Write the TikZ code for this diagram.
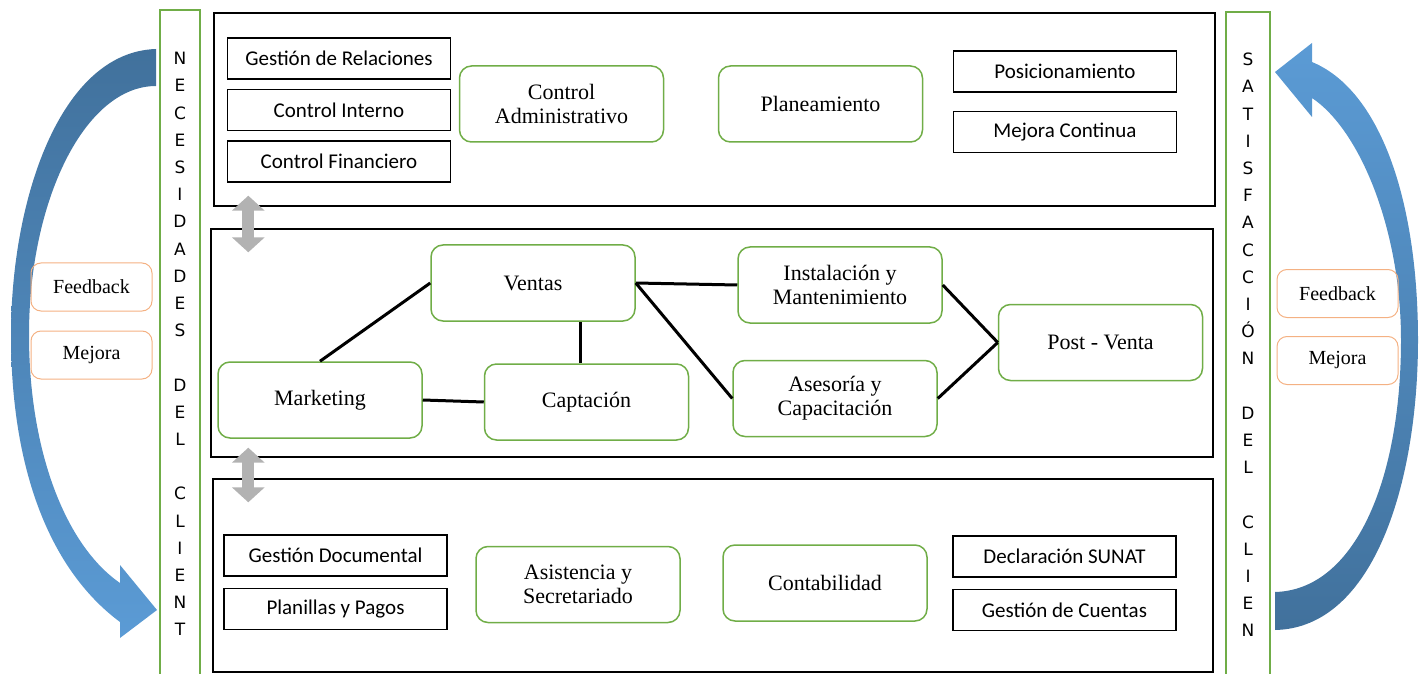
\documentclass[tikz,border=0pt]{standalone}
\usepackage{fontspec}
\setmainfont{Liberation Serif}
\newfontfamily\calibri{Carlito}
\newfontfamily\gotica{DejaVu Sans}
\usetikzlibrary{arrows.meta, positioning}
\definecolor{verde}{HTML}{70AD47}
\definecolor{naranja}{HTML}{F4B183}
\definecolor{azul}{HTML}{5B9BD5}
\definecolor{azuloscuro}{HTML}{41719C}
\tikzstyle{panel} = [rectangle, 
			draw, 
			line width = 0.7pt, 
			inner sep = 0pt]
\tikzstyle{tarea} = [rectangle, 
			draw, 
			line width = 0.75pt, 
			minimum width = 111.5pt, 
			minimum height = 20.5pt, 
			font = \calibri\fontsize{10.5}{12}\selectfont]
\tikzstyle{area} = [rectangle, 
			draw = verde, 
			rounded corners = 6pt, 
			line width = 0.75pt, 
			align = center, 
			minimum width = 102pt, 
			minimum height = 38pt, 
			font = \fontsize{11}{12}\selectfont]
\tikzstyle{nota} = [rectangle, 
			draw = naranja, 
			rounded corners = 5pt, 
			line width = 0.5pt, 
			minimum width = 60.5pt, 
			minimum height = 24pt, 
			font = \fontsize{10}{12}\selectfont]
\tikzstyle{franja} = [rectangle, 
			draw = verde, 
			line width = 0.6pt, 
			align = center, 
			minimum width = 20pt, 
			font = \gotica\fontsize{8.5}{13.6}\selectfont]
\tikzstyle{enlace} = [line width = 1.5pt]
\tikzstyle{dobleflecha} = [line width = 6pt, 
			gray!60, 
			{Triangle[width=16pt,length=7.5pt]}-{Triangle[width=16pt,length=7.5pt]}]

\begin{document}
\begin{tikzpicture}[x=0.5pt, y=-0.5pt, node distance = 4.5pt]
	\useasboundingbox (0,0) rectangle (1426,674);
	% flechas curvas
	\shade[top color=azuloscuro, bottom color=azul] (156,49) .. controls (60,52) and (11,200) .. (11,335) .. controls (11,470) and (50,570) .. (120,622) -- (120,638) -- (157,610) -- (120,565) -- (120,583) .. controls (65,545) and (29,450) .. (29,335) .. controls (29,200) and (85,86) .. (156,86) -- cycle;
	\shade[top color=azul, bottom color=azuloscuro] (1275,630) .. controls (1375,628) and (1418,480) .. (1418,340) .. controls (1418,200) and (1380,90) .. (1312,62) -- (1312,43) -- (1275,72) -- (1312,117) -- (1312,98) .. controls (1360,130) and (1401,230) .. (1401,340) .. controls (1401,480) and (1355,590) .. (1275,592) -- cycle;

	\node [franja, minimum height = 334pt] (necesidades) at (180,344) {N\\E\\C\\E\\S\\I\\D\\A\\D\\E\\S\\[13.6pt]D\\E\\L\\[13.6pt]C\\L\\I\\E\\N\\T};
	\node [franja, minimum width = 22pt, minimum height = 333pt] (satisfaccion) at (1248,345) {S\\A\\T\\I\\S\\F\\A\\C\\C\\I\\Ó\\N\\[13.6pt]D\\E\\L\\[13.6pt]C\\L\\I\\E\\N};

	\node [nota] (feedbackizq) at (91.5,287) {Feedback};
	\node [nota, below=9.5pt of feedbackizq] (mejoraizq) {Mejora};
	\node [nota] (feedbackder) at (1337.5,293.5) {Feedback};
	\node [nota, below=9pt of feedbackder] (mejorader) {Mejora};

	% paneles
	\node [panel, minimum width = 500.5pt, minimum height = 96.5pt] (soporte) at (714.5,109.5) {};
	\node [panel, minimum width = 501pt, minimum height = 114pt] (operacion) at (712,343) {};
	\node [panel, minimum width = 500pt, minimum height = 96.5pt] (administracion) at (713,575.5) {};

	\node [tarea] (relaciones) at (339,58.5) {Gestión de Relaciones};
	\node [tarea, below=of relaciones] (interno) {Control Interno};
	\node [tarea, below=of interno] (financiero) {Control Financiero};
	\node [area] (control) at (561.5,104) {Control\\Administrativo};
	\node [area] (planeamiento) at (820.5,104) {Planeamiento};
	\node [tarea] (posicionamiento) at (1065,71.5) {Posicionamiento};
	\node [tarea, below=9pt of posicionamiento] (continua) {Mejora Continua};

	\node [area] (ventas) at (533,283) {Ventas};
	\node [area] (instalacion) at (840,285) {Instalación y\\Mantenimiento};
	\node [area] (postventa) at (1100.5,342.5) {Post - Venta};
	\node [area] (marketing) at (320,400) {Marketing};
	\node [area] (captacion) at (586.5,402) {Captación};
	\node [area] (asesoria) at (835,398.5) {Asesoría y\\Capacitación};

	\node [tarea] (documental) at (335.5,555.5) {Gestión Documental};
	\node [tarea, below=5.5pt of documental] (planillas) {Planillas y Pagos};
	\node [area] (asistencia) at (578,584.5) {Asistencia y\\Secretariado};
	\node [area] (contabilidad) at (825,583) {Contabilidad};
	\node [tarea] (sunat) at (1064.5,556.5) {Declaración SUNAT};
	\node [tarea, below=5.5pt of sunat] (cuentas) {Gestión de Cuentas};

	\draw [enlace] (marketing.north) -- (ventas.west);
	\draw [enlace] (marketing.east) -- (captacion.west);
	\draw [enlace] ([xshift=-3pt]captacion.north) -- ([xshift=-3pt]captacion.north |- ventas.south);
	\draw [enlace] (ventas.east) -- (instalacion.west);
	\draw [enlace] (ventas.east) -- (asesoria.west);
	\draw [enlace] (instalacion.east) -- (postventa.west);
	\draw [enlace] (asesoria.east) -- (postventa.west);

	\draw [dobleflecha] ([xshift=17.5pt,yshift=5.5pt]soporte.south west) -- ([xshift=19pt,yshift=-12pt]operacion.north west);
	\draw [dobleflecha] ([xshift=19pt,yshift=5pt]operacion.south west) -- ([xshift=18pt,yshift=-12pt]administracion.north west);
\end{tikzpicture}
\end{document}
